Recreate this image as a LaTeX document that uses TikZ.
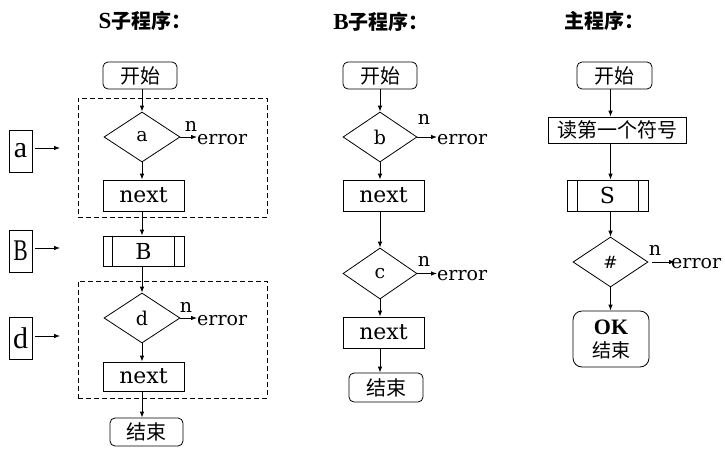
\documentclass[tikz,border=0pt]{standalone}
\usepackage{fontspec}
\setmainfont{DejaVu Serif}
\newfontfamily\cjk{Noto Sans CJK SC}
\newfontfamily\tnr{Liberation Serif}
\usetikzlibrary{shapes.geometric,arrows.meta}
\begin{document}
\begin{tikzpicture}[x=1pt,y=-1pt,
  every node/.style={inner sep=0pt},
  lw/.style={line width=0.8pt},
  arr/.style={lw,-{Latex[length=6pt,width=4.5pt]}},
  term/.style={draw,lw,rounded corners=5pt,font=\cjk\fontsize{20}{24}\selectfont},
  proc/.style={draw,lw,minimum width=81pt,font=\fontsize{22}{26}\selectfont},
  dec/.style={draw,lw,diamond,minimum width=76pt,minimum height=50pt,font=\fontsize{19}{23}\selectfont},
  grp/.style={draw,lw,dash pattern=on 5pt off 3pt},
  lab/.style={draw,lw,minimum width=23pt,minimum height=42pt,font=\tnr\fontsize{30}{30}\selectfont},
  errt/.style={anchor=west,font=\fontsize{19}{23}\selectfont},
  nt/.style={font=\fontsize{19}{23}\selectfont},
  title/.style={font=\fontsize{20}{24}\selectfont},
  ttl/.style={font=\tnr\bfseries\fontsize{23}{24}\selectfont}
]
\useasboundingbox (0,0) rectangle (725,458);

% ---------- S subroutine ----------
\node[title] (t1) at (145,21) {{\tnr\bfseries\fontsize{23}{24}\selectfont S}{\cjk\bfseries 子程序：}};
\node[grp,minimum width=189pt,minimum height=119pt] (g1) at (172.5,157.5) {};
\node[grp,minimum width=189pt,minimum height=117pt] (g2) at (172.5,339.5) {};

\node[term,minimum width=74pt,minimum height=27pt] (s1) at (140,75.5) {开始};
\node[dec] (da) at (142,137) {a};
\node[proc,minimum height=31pt] (n1) at (143.5,195.5) {next};
\node[proc,minimum height=30pt] (bb) at (143.5,251) {B};
\draw[lw] ([xshift=10pt]bb.north west) -- ([xshift=10pt]bb.south west);
\draw[lw] ([xshift=-10pt]bb.north east) -- ([xshift=-10pt]bb.south east);
\node[dec] (dd) at (142,318) {d};
\node[proc,minimum height=29pt] (n2) at (143.5,376.5) {next};
\node[term,minimum width=73pt,minimum height=28pt] (e1) at (146.5,432) {结束};

\draw[arr] (s1.south -| da) -- (da.north);
\draw[arr] (da.south) -- (n1.north -| da);
\draw[arr] (n1.south -| da) -- (bb.north -| da);
\draw[arr] (bb.south -| da) -- (dd.north);
\draw[arr] (dd.south) -- (n2.north -| dd);
\draw[arr] (n2.south -| dd) -- (e1.north -| dd);

\node[errt] (ea) at (197,139.5) {error};
\draw[arr] (da.east) -- (da.east -| ea.west);
\node[nt] (na) at (191,126) {n};
\node[errt] (ed) at (197,320.5) {error};
\draw[arr] (dd.east) -- (dd.east -| ed.west);
\node[nt] (nd) at (186,307) {n};

\node[lab] (la) at (20.5,151) {a};
\node[lab] (lb) at (20.5,251) {\scalebox{0.72}[1]{B}};
\node[lab] (ld) at (20.5,338) {d};
\coordinate (ta) at (60,148);
\coordinate (tb) at (60,248);
\coordinate (td) at (60,336);
\draw[arr] ([xshift=3pt]la.east |- ta) -- (ta);
\draw[arr] ([xshift=3pt]lb.east |- tb) -- (tb);
\draw[arr] ([xshift=3pt]ld.east |- td) -- (td);

% ---------- B subroutine ----------
\node[title] (t2) at (381,22) {{\tnr\bfseries\fontsize{23}{24}\selectfont B}{\cjk\bfseries 子程序：}};
\node[term,minimum width=74pt,minimum height=27pt] (s2) at (380,75.5) {开始};
\node[dec,minimum width=74pt] (db) at (380,137) {b};
\node[proc,minimum height=31pt] (n3) at (383.5,195.5) {next};
\node[dec,minimum width=74pt,minimum height=51pt] (dc) at (380,273.5) {c};
\node[proc,minimum height=31pt] (n4) at (383.5,332.5) {next};
\node[term,minimum width=74pt,minimum height=29pt] (e2) at (386,387.5) {结束};

\draw[arr] (s2.south -| db) -- (db.north);
\draw[arr] (db.south) -- (n3.north -| db);
\draw[arr] (n3.south -| db) -- (dc.north);
\draw[arr] (dc.south) -- (n4.north -| dc);
\draw[arr] (n4.south -| dc) -- (e2.north -| dc);

\node[errt] (eb) at (437,139.5) {error};
\draw[arr] (db.east) -- (db.east -| eb.west);
\node[nt] (nb) at (424,119) {n};
\node[errt] (ec) at (437,276) {error};
\draw[arr] (dc.east) -- (dc.east -| ec.west);
\node[nt] (nc) at (424,261) {n};

% ---------- main program ----------
\node[title] (t3) at (604,21) {{\cjk\bfseries 主程序：}};
\node[term,minimum width=75pt,minimum height=27pt] (s3) at (614.5,75.5) {开始};
\node[proc,minimum width=138pt,minimum height=26pt,font=\cjk\fontsize{20}{24}\selectfont] (rd) at (617,130) {读第一个符号};
\node[proc,minimum height=31pt] (ss) at (607.5,195.5) {S};
\draw[lw] ([xshift=11pt]ss.north west) -- ([xshift=11pt]ss.south west);
\draw[lw] ([xshift=-10pt]ss.north east) -- ([xshift=-10pt]ss.south east);
\node[dec,minimum width=75pt,font=\fontsize{17}{20}\selectfont] (dh) at (610.5,262) {\#};
\node[draw,lw,rounded corners=9pt,minimum width=76pt,minimum height=56pt,align=center,font=\fontsize{19}{23}\selectfont] (ok) at (611,339) {{\tnr\bfseries\fontsize{22}{23}\selectfont OK}\\{\cjk 结束}};

\draw[arr] (s3.south -| dh) -- (rd.north -| dh);
\draw[arr] (rd.south -| dh) -- (ss.north -| dh);
\draw[arr] (ss.south -| dh) -- (dh.north);
\draw[arr] (dh.south) -- (ok.north -| dh);

\node[errt] (eh) at (671,264) {error};
\draw[arr] ([xshift=4pt]dh.east) -- ([xshift=4pt]dh.east -| eh.west);
\node[nt] (nh) at (655,250) {n};
\end{tikzpicture}
\end{document}
